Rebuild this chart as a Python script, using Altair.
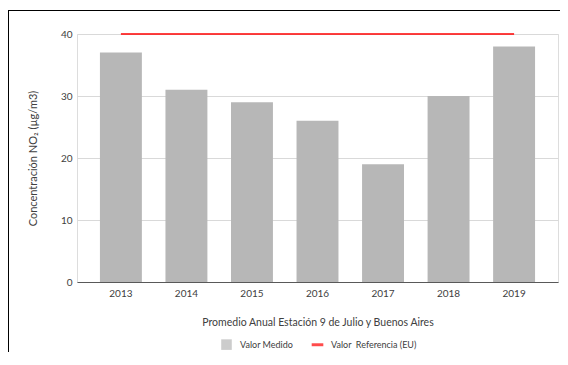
import altair as alt
import pandas as pd

years = ["2013", "2014", "2015", "2016", "2017", "2018", "2019"]
measured = [37, 31, 29, 26, 19, 30, 38]
reference = [40, 40, 40, 40, 40, 40, 40]
series = ["Valor Medido", "Valor\u00a0 Referencia (EU)"]
colors = ["#b7b7b7", "#ff0000"]
y_ticks = [0, 10, 20, 30, 40]
x_title = "Promedio Anual Estación 9 de Julio y Buenos Aires"
y_title = "Concentración NO₂ (µg/m3)"

bars_df = pd.DataFrame({"year": years, "value": measured, "serie": series[0]})
ref_df = pd.DataFrame({"year": years, "value": reference, "serie": series[1]})

FONT = "Lato"
TXT = "#404040"

legend_kw = dict(
    title=None, orient="none", legendX=144, legendY=305, direction="horizontal",
    symbolSize=112, labelFontSize=9, labelColor=TXT, labelFont=FONT,
    labelOffset=8, columnPadding=17, symbolStrokeWidth=0,
)

x_enc = alt.X(
    "year:N", sort=years, title=x_title,
    scale=alt.Scale(paddingInner=0.36, paddingOuter=0.35),
    axis=alt.Axis(labelAngle=0, ticks=False, domainColor="#595959", labelColor=TXT,
                  labelFontSize=10, labelPadding=6, titleFontSize=10.5, titleColor=TXT,
                  titleFontWeight="normal", titleY=40, titleBaseline="middle",
                  labelFont=FONT, titleFont=FONT),
)
y_enc = alt.Y(
    "value:Q", title=y_title,
    scale=alt.Scale(domain=[0, 40], nice=False),
    axis=alt.Axis(values=y_ticks, ticks=False, domain=False, gridColor="#d9d9d9",
                  labelColor=TXT, labelFontSize=10, labelPadding=5, titleFontSize=11,
                  titleColor=TXT, titleFontWeight="normal", titleX=-44, titleY=124,
                  titleAngle=270, titleAlign="center", titleBaseline="middle",
                  labelFont=FONT, titleFont=FONT),
)
color_enc = alt.Color("serie:N", scale=alt.Scale(domain=series, range=colors),
                      legend=alt.Legend(**legend_kw))
shape_enc = alt.Shape("serie:N",
                      scale=alt.Scale(domain=series,
                                      range=["square", "M-1.1,-0.28L1.1,-0.28L1.1,0.28L-1.1,0.28Z"]),
                      legend=alt.Legend(**legend_kw))

bars = alt.Chart(bars_df).mark_bar().encode(x=x_enc, y=y_enc, color=color_enc)
line = alt.Chart(ref_df).mark_line(strokeWidth=1.3).encode(x=x_enc, y=y_enc, color=color_enc)
pts = alt.Chart(ref_df).mark_point(filled=True, size=0).encode(
    x=x_enc, y=y_enc, color=color_enc, shape=shape_enc)

frame_data = alt.Data(values=[{}])
top = alt.Chart(frame_data).mark_rule(color="#000000", strokeWidth=1).encode(
    x=alt.value(-69), x2=alt.value(483), y=alt.value(-23.5))
left = alt.Chart(frame_data).mark_rule(color="#000000", strokeWidth=1).encode(
    x=alt.value(-68.5), y=alt.value(-24), y2=alt.value(318))

chart = alt.layer(bars, line, pts, top, left).properties(
    width=481, height=248,
    autosize=alt.AutoSizeParams(type="none"),
    padding={"left": 69, "top": 26, "right": 2, "bottom": 70},
    background="white",
).configure_view(stroke=None).configure(font=FONT)

chart.save("out.html", embed_options={"renderer": "svg", "actions": False})
